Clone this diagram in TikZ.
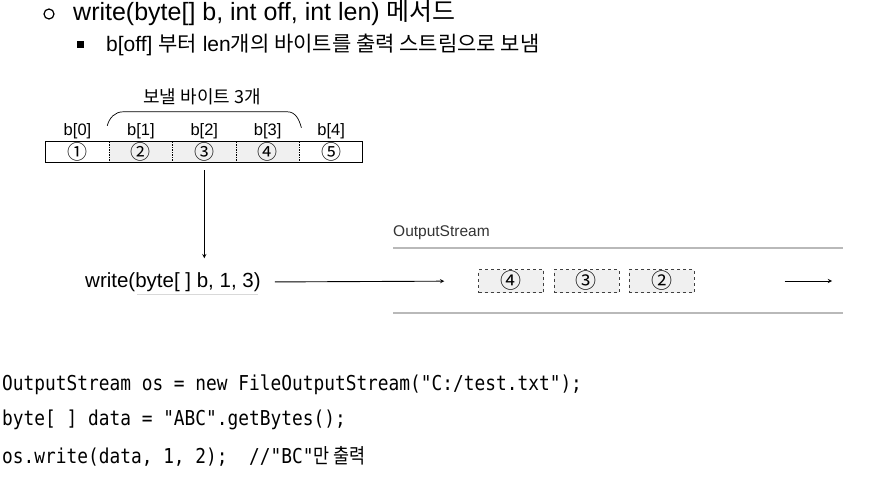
\documentclass[tikz,border=0pt]{standalone}
\usepackage{fontspec}
\setmainfont{Liberation Sans}
\newfontfamily\kr{Noto Sans CJK KR}
\newfontfamily\codefont[FakeStretch=0.87]{DejaVu Sans Mono}
\newfontfamily\codekr[FakeStretch=0.85]{Noto Sans CJK KR}
\usetikzlibrary{positioning}

\begin{document}
\begin{tikzpicture}[
    x=1pt, y=-1pt,
    >=stealth,
    cell/.style={
        minimum width=63pt,
        minimum height=20pt,
        inner sep=0pt,
        font=\kr\fontsize{20}{20}\selectfont
    },
    sent/.style={cell, fill=gray!12},
    qbox/.style={
        draw=black!75,
        dashed,
        fill=gray!12,
        minimum width=65pt,
        minimum height=23pt,
        inner sep=0pt,
        font=\kr\fontsize{21}{21}\selectfont
    },
    lbl/.style={font=\fontsize{16.5}{16.5}\selectfont, inner sep=1pt},
    arr/.style={->, line width=0.9pt},
    pipe/.style={gray!55, line width=1.8pt},
    code/.style={anchor=west, inner sep=0pt, font=\codefont\fontsize{20.5}{20.5}\selectfont}
]
    \useasboundingbox (0,0) rectangle (874,482);

    % heading
    \node[circle, draw, line width=1.2pt, minimum size=10pt, inner sep=0pt] (dot1) at (49,14) {};
    \node[anchor=west, inner sep=0pt, font=\fontsize{25}{25}\selectfont] (title) at (73,13)
        {write(byte[] b, int off, int len) {\kr 메서드}};
    \node[fill, minimum size=7pt, inner sep=0pt] (dot2) at (80,44) {};
    \node[anchor=west, inner sep=0pt, font=\fontsize{21}{21}\selectfont] (sub) at (106,45)
        {b[off] {\kr 부터} len{\kr 개의 바이트를 출력 스트림으로 보냄}};

    % array b
    \node[cell] (c0) at (77.5,152) {①};
    \node[sent, right=0pt of c0] (c1) {②};
    \node[sent, right=0pt of c1] (c2) {③};
    \node[sent, right=0pt of c2] (c3) {④};
    \node[cell, right=0pt of c3] (c4) {⑤};
    \draw[line width=0.7pt] (c0.north west) rectangle (c4.south east);
    \foreach \i in {1,...,4}
        \draw[dash pattern=on 1.5pt off 1pt, line width=0.6pt] (c\i.north west) -- (c\i.south west);
    \foreach \i in {0,...,4}
        \node[lbl, above=2pt of c\i] (b\i) {b[\i]};

    \draw[line width=0.7pt] ([xshift=-2pt,yshift=16pt]c1.north west)
        to[out=75,in=180] ([xshift=14pt,yshift=30pt]c1.north west)
        -- ([xshift=-12pt,yshift=30pt]c3.north east)
        to[out=0,in=105] ([xshift=2pt,yshift=14pt]c3.north east);
    \node[font=\kr\fontsize{18}{18}\selectfont] (cnt) at (202,97) {보낼 바이트 3개};

    % call
    \node[anchor=west, inner sep=0pt, font=\fontsize{20.5}{20.5}\selectfont] (call) at (85,282)
        {write(byte[ ] b, 1, 3)};
    \draw[gray!30, line width=1pt] (137,294) -- (258,294);
    \draw[arr, shorten <=8pt, shorten >=14pt] (c2.south) -- (c2.south |- call.north);

    % stream
    \node[anchor=west, inner sep=0pt, text=black!80, font=\fontsize{15.5}{15.5}\selectfont] (os) at (393,233) {OutputStream};
    \draw[pipe] (393,248) -- (843,248);
    \draw[pipe] (393,313) -- (843,313);
    \node[qbox] (q4) at (511,281) {④};
    \node[qbox, right=10pt of q4] (q3) {③};
    \node[qbox, right=10pt of q3] (q2) {②};
    \coordinate (out) at (832,281);
    \draw[arr, shorten <=14pt, shorten >=34pt] (call.east) -- (q4.west);
    \draw[arr, shorten <=90pt] (q2.east) -- (out);

    % code
    \node[code] (l1) at (2,385) {OutputStream os = new FileOutputStream("C:/test.txt");};
    \node[code] (l2) at (2,420) {byte[ ] data = "ABC".getBytes();};
    \node[code] (l3) at (2,456) {os.write(data, 1, 2);\ \ //"BC"{\codekr 만 출력}};
\end{tikzpicture}
\end{document}
